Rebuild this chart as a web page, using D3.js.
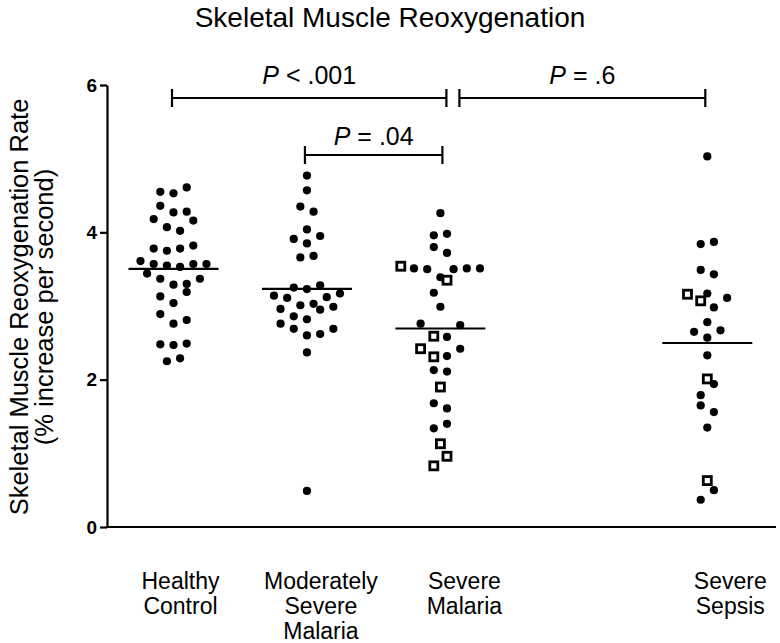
<!DOCTYPE html>
<html><head><meta charset="utf-8">
<script src="https://cdn.jsdelivr.net/npm/d3@7"></script>
<style>
body{margin:0;background:#fff}
svg{display:block}
text{font-family:Arial,"Liberation Sans",sans-serif;fill:#000}
</style>
</head><body>
<svg id="chart" width="780" height="643"></svg>
<script>
// ---------------- data ----------------
const categories = ["Healthy Control", "Moderately Severe Malaria", "Severe Malaria", "Severe Sepsis"];
const categoryLabels = [["Healthy", "Control"], ["Moderately", "Severe", "Malaria"], ["Severe", "Malaria"], ["Severe", "Sepsis"]];
const healthyControl = [4.55, 4.53, 4.61, 4.36, 4.27, 4.28, 4.18, 4.07, 4.02, 4.16, 3.78, 3.75, 3.78, 3.82,
  3.61, 3.57, 3.55, 3.53, 3.57, 3.57, 3.44, 3.37, 3.29, 3.30, 3.37, 3.13, 3.04, 3.19, 2.89, 2.76, 2.81,
  2.48, 2.47, 2.49, 2.25, 2.29];
const moderatelySevereMalaria = [4.77, 4.57, 4.35, 4.28, 4.04, 3.91, 3.85, 3.95, 3.66, 3.68, 3.25, 3.23, 3.28,
  3.14, 3.11, 3.01, 3.03, 3.12, 3.17, 2.96, 2.86, 2.82, 2.95, 2.99, 2.76, 2.69, 2.60, 2.62, 2.69, 2.37, 0.49];
const severeMalaria = [4.26, 3.96, 3.98, 3.80, 3.72, 3.54, 3.51, 3.50, 3.39, 3.50, 3.51, 3.51, 3.18, 3.35, 2.99,
  2.76, 2.59, 2.58, 2.74, 2.42, 2.31, 2.32, 2.42, 2.13, 2.11, 1.90, 1.68, 1.61, 1.34, 1.40, 1.13, 0.83, 0.96];
// "o" = filled circle, "s" = open square
const severeMalariaMarker = ["o","o","o","o","o","s","o","o","o","o","o","o","o","s","o",
  "o","s","o","o","s","s","o","o","o","o","s","o","o","o","o","s","s","s"];
const severeSepsis = [5.03, 3.84, 3.87, 3.49, 3.43, 3.17, 3.16, 3.07, 2.98, 3.11, 2.78, 2.65, 2.57, 2.67, 2.33,
  2.01, 1.79, 1.94, 1.65, 1.56, 1.35, 0.63, 0.37, 0.50];
const severeSepsisMarker = ["o","o","o","o","o","o","s","s","o","o","o","o","o","o","o",
  "s","o","o","o","o","o","s","o","o"];
const yTicks = [0, 2, 4, 6];
const comparisons = [
  {from: "Healthy Control", to: "Severe Malaria", text: " < .001", level: 0},
  {from: "Severe Malaria", to: "Severe Sepsis", text: " = .6", level: 0},
  {from: "Moderately Severe Malaria", to: "Severe Malaria", text: " = .04", level: 1}
];

const groups = [
  {name: categories[0], values: healthyControl, markers: healthyControl.map(() => "o")},
  {name: categories[1], values: moderatelySevereMalaria, markers: moderatelySevereMalaria.map(() => "o")},
  {name: categories[2], values: severeMalaria, markers: severeMalariaMarker},
  {name: categories[3], values: severeSepsis, markers: severeSepsisMarker}
];

// ---------------- layout ----------------
const svg = d3.select("#chart");
const plotLeft = 107, plotTop = 85, plotBottom = 527;

const slots = [categories[0], categories[1], categories[2], "_gap", categories[3]];
const x = d3.scalePoint().domain(slots).range([173.5, 707.3]);
const y = d3.scaleLinear().domain([0, 6]).range([plotBottom, plotTop]);

// column-scatter row layout
const ROW_TOL = 0.185, SPACING = 13.2;
function swarm(values) {
  const idx = d3.range(values.length).sort((a, b) => values[a] - values[b] || a - b);
  const rows = [];
  let cur = null;
  idx.forEach(i => {
    if (cur && values[i] - values[cur[0]] < ROW_TOL) cur.push(i);
    else { cur = [i]; rows.push(cur); }
  });
  const off = new Array(values.length);
  rows.forEach(r => {
    r.sort((a, b) => a - b);
    r.forEach((i, k) => off[i] = (k - (r.length - 1) / 2) * SPACING);
  });
  return off;
}

// title
svg.append("text").attr("x", 390).attr("y", 27).attr("text-anchor", "middle")
  .style("font-size", "28px").text("Skeletal Muscle Reoxygenation");

// y axis title
const yt = svg.append("text").attr("transform", "translate(28,307) rotate(-90)")
  .attr("text-anchor", "middle").style("font-size", "25.5px");
yt.append("tspan").attr("x", 0).attr("y", 0).text("Skeletal Muscle Reoxygenation Rate");
yt.append("tspan").attr("x", 0).attr("y", 25).text("(% increase per second)");

// y axis
const yAxis = svg.append("g").attr("transform", `translate(${plotLeft},0)`)
  .call(d3.axisLeft(y).tickValues(yTicks).tickSize(7).tickSizeOuter(0).tickPadding(3).tickFormat(d3.format("d")));
yAxis.select(".domain").attr("stroke", "#000").attr("stroke-width", 2.2);
yAxis.selectAll(".tick line").attr("stroke", "#000").attr("stroke-width", 2.2);
yAxis.selectAll(".tick text").style("font-size", "19px").style("font-weight", "bold")
  .attr("font-family", null).attr("fill", "#000");

// x axis line
svg.append("line").attr("x1", plotLeft - 1).attr("x2", 776).attr("y1", y(0)).attr("y2", y(0))
  .attr("stroke", "#000").attr("stroke-width", 2.2);

// x labels
const labelShift = [7, 14, 24, 23];
categories.forEach((c, i) => {
  const t = svg.append("text").attr("text-anchor", "middle").style("font-size", "23px");
  categoryLabels[i].forEach((ln, k) => {
    t.append("tspan").attr("x", x(c) + labelShift[i]).attr("y", 589 + k * 25).text(ln);
  });
});

// points & means
groups.forEach(g => {
  const cx = x(g.name);
  const off = swarm(g.values);
  const gg = svg.append("g");
  g.values.forEach((v, i) => {
    if (g.markers[i] === "s") {
      gg.append("rect").attr("x", cx + off[i] - 4).attr("y", y(v) - 4).attr("width", 8).attr("height", 8)
        .attr("fill", "#fff").attr("stroke", "#000").attr("stroke-width", 2.8);
    } else {
      gg.append("circle").attr("cx", cx + off[i]).attr("cy", y(v)).attr("r", 4.1).attr("fill", "#000");
    }
  });
  const m = d3.mean(g.values);
  svg.append("line").attr("x1", cx - 45).attr("x2", cx + 45).attr("y1", y(m)).attr("y2", y(m))
    .attr("stroke", "#000").attr("stroke-width", 2.2);
});

// significance brackets
const levelY = [98, 155];
const textGap = [14, 10];
const endAdj = {
  "Healthy Control|Severe Malaria": [-1.5, 6],
  "Severe Malaria|Severe Sepsis": [19, -2],
  "Moderately Severe Malaria|Severe Malaria": [-2, 2]
};
comparisons.forEach(c => {
  const adj = endAdj[c.from + "|" + c.to];
  const x1 = x(c.from) + adj[0], x2 = x(c.to) + adj[1], yy = levelY[c.level];
  const b = svg.append("g").attr("stroke", "#000").attr("stroke-width", 2.2).attr("fill", "none");
  b.append("line").attr("x1", x1).attr("x2", x2).attr("y1", yy).attr("y2", yy);
  b.append("line").attr("x1", x1).attr("x2", x1).attr("y1", yy - 9).attr("y2", yy + 9);
  b.append("line").attr("x1", x2).attr("x2", x2).attr("y1", yy - 9).attr("y2", yy + 9);
  const t = svg.append("text").attr("x", (x1 + x2) / 2).attr("y", yy - textGap[c.level]).attr("text-anchor", "middle")
    .style("font-size", "25px");
  t.append("tspan").style("font-style", "italic").text("P");
  t.append("tspan").text(c.text);
});
</script>
</body></html>
